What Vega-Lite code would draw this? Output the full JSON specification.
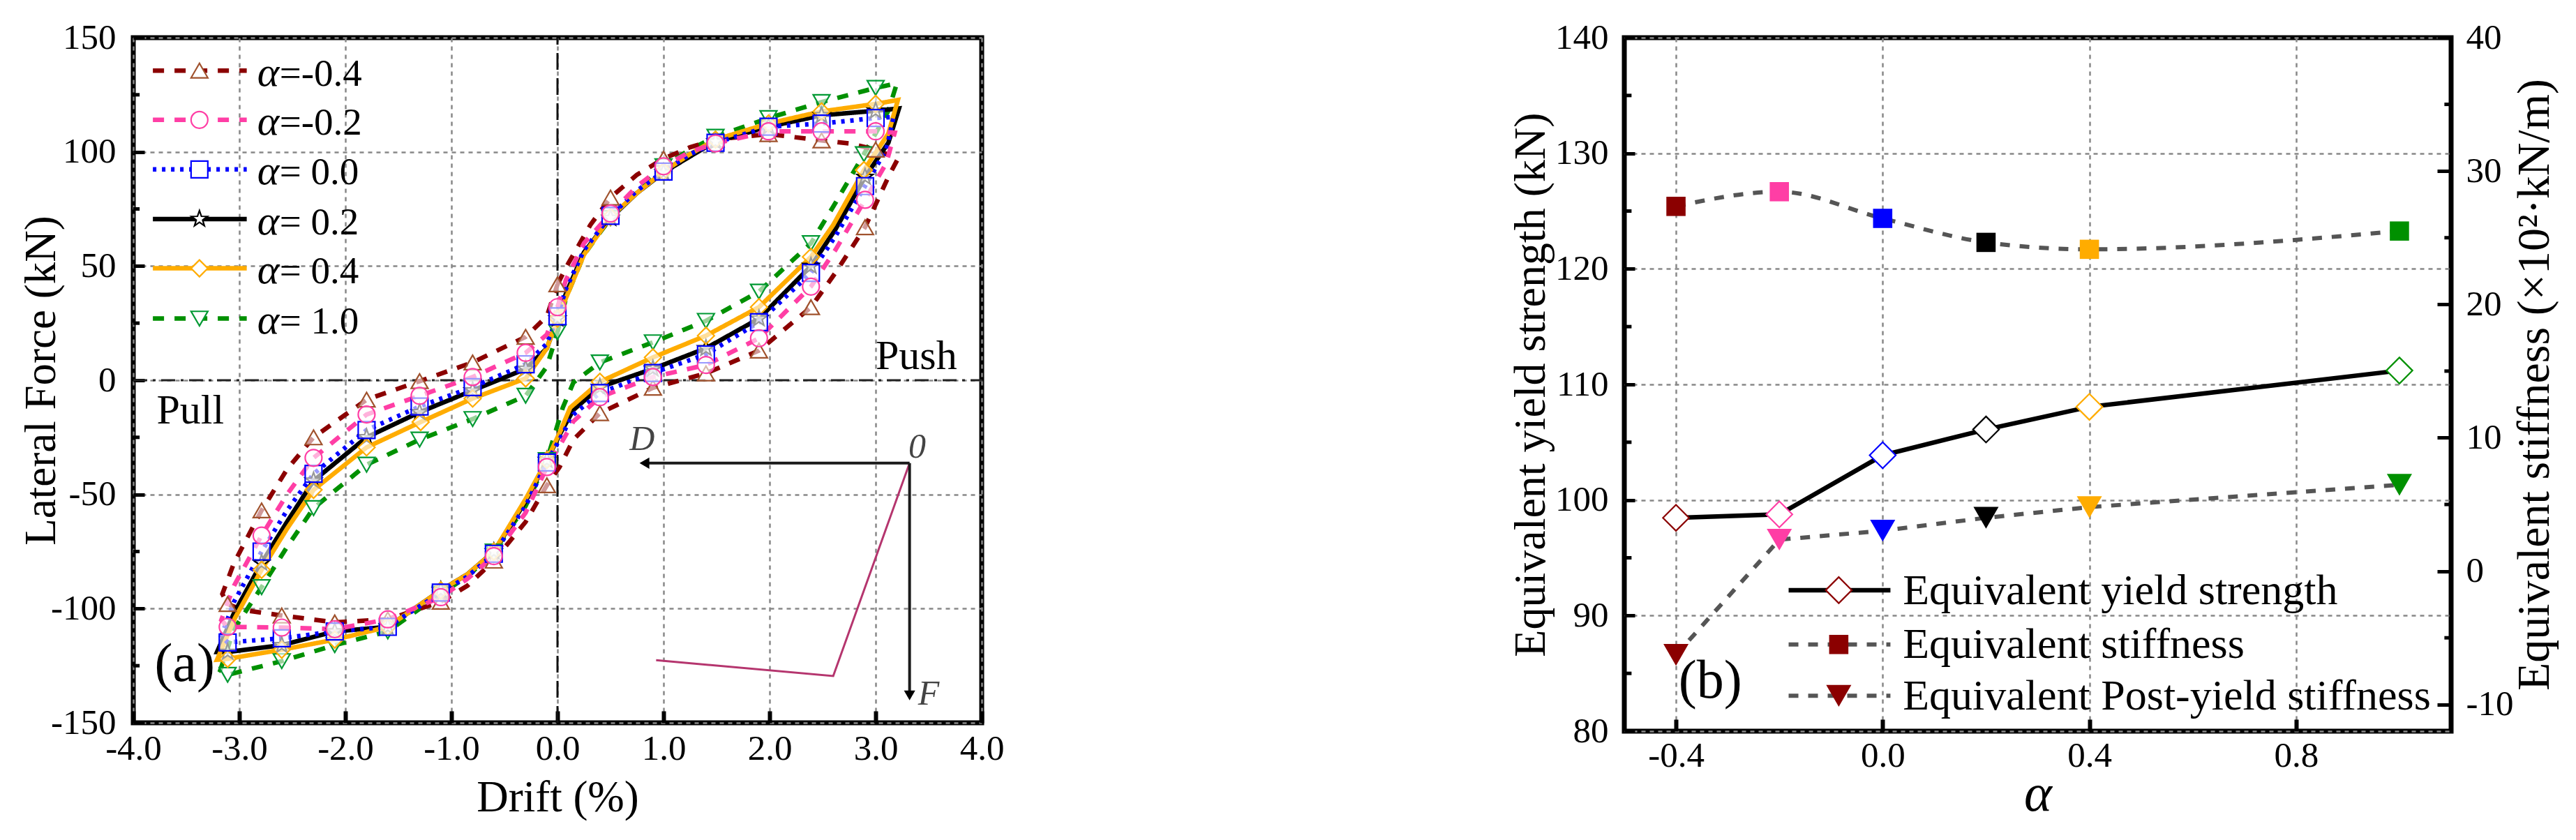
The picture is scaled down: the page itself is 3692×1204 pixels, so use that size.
{"$schema":"https://vega.github.io/schema/vega-lite/v6.json","background":"white","padding":{"left":25,"top":24,"right":0,"bottom":0},"bounds":"flush","spacing":921,
"resolve":{"scale":{"color":"independent","shape":"independent","size":"independent","stroke":"independent","strokeDash":"independent","strokeWidth":"independent"}},
"config":{"view":{"stroke":"black","strokeWidth":7},"axis":{"labelFont":"Liberation Serif","titleFont":"Liberation Serif","labelFontSize":51,"titleFontWeight":"normal","labelColor":"black","titleColor":"black","tickColor":"black","tickSize":-17,"tickWidth":6,"domain":false,"labelOverlap":false,"labelFlush":false,"labelBound":false,"gridColor":"#888888","gridWidth":2.5,"gridDash":[6,6]}},
"datasets":{
"loops":[
{"a":"1.0","i":1,"drift":0,"force":21,"m":1},{"a":"1.0","i":2,"drift":0.08,"force":36,"m":0},{"a":"1.0","i":3,"drift":0.25,"force":55,"m":0},{"a":"1.0","i":4,"drift":0.5,"force":71,"m":1},{"a":"1.0","i":5,"drift":0.75,"force":83,"m":0},{"a":"1.0","i":6,"drift":1.0,"force":93.7,"m":1},{"a":"1.0","i":7,"drift":1.25,"force":101,"m":0},{"a":"1.0","i":8,"drift":1.49,"force":106.6,"m":1},{"a":"1.0","i":9,"drift":1.99,"force":114.8,"m":1},{"a":"1.0","i":10,"drift":2.49,"force":121.8,"m":1},{"a":"1.0","i":11,"drift":3.0,"force":128,"m":1},{"a":"1.0","i":12,"drift":3.2,"force":130,"m":0},{"a":"1.0","i":13,"drift":3.12,"force":118,"m":0},{"a":"1.0","i":14,"drift":2.89,"force":99,"m":1},{"a":"1.0","i":15,"drift":2.6,"force":76,"m":0},{"a":"1.0","i":16,"drift":2.39,"force":60,"m":1},{"a":"1.0","i":17,"drift":1.9,"force":38.8,"m":1},{"a":"1.0","i":18,"drift":1.4,"force":26,"m":1},{"a":"1.0","i":19,"drift":0.9,"force":16.6,"m":1},{"a":"1.0","i":20,"drift":0.4,"force":7.8,"m":1},{"a":"1.0","i":21,"drift":0.15,"force":-1,"m":0},{"a":"1.0","i":22,"drift":0.05,"force":-12,"m":0},{"a":"1.0","i":23,"drift":-0.1,"force":-35,"m":1},{"a":"1.0","i":24,"drift":-0.3,"force":-55,"m":0},{"a":"1.0","i":25,"drift":-0.6,"force":-75,"m":1},{"a":"1.0","i":26,"drift":-0.85,"force":-86,"m":0},{"a":"1.0","i":27,"drift":-1.1,"force":-93.5,"m":1},{"a":"1.0","i":28,"drift":-1.6,"force":-110,"m":1},{"a":"1.0","i":29,"drift":-2.1,"force":-116,"m":1},{"a":"1.0","i":30,"drift":-2.6,"force":-123,"m":1},{"a":"1.0","i":31,"drift":-3.11,"force":-129,"m":1},{"a":"1.0","i":32,"drift":-3.18,"force":-127,"m":0},{"a":"1.0","i":33,"drift":-3.05,"force":-109,"m":0},{"a":"1.0","i":34,"drift":-2.79,"force":-90.6,"m":1},{"a":"1.0","i":35,"drift":-2.55,"force":-73,"m":0},{"a":"1.0","i":36,"drift":-2.3,"force":-56,"m":1},{"a":"1.0","i":37,"drift":-1.8,"force":-37,"m":1},{"a":"1.0","i":38,"drift":-1.3,"force":-26,"m":1},{"a":"1.0","i":39,"drift":-0.8,"force":-17,"m":1},{"a":"1.0","i":40,"drift":-0.3,"force":-6.8,"m":1},{"a":"1.0","i":41,"drift":-0.1,"force":6,"m":0},{"a":"1.0","i":42,"drift":0,"force":21,"m":0},
{"a":"-0.4","i":1,"drift":0,"force":42,"m":1},{"a":"-0.4","i":2,"drift":0.1,"force":51,"m":0},{"a":"-0.4","i":3,"drift":0.31,"force":68,"m":0},{"a":"-0.4","i":4,"drift":0.5,"force":80,"m":1},{"a":"-0.4","i":5,"drift":0.75,"force":90,"m":0},{"a":"-0.4","i":6,"drift":1.0,"force":97,"m":1},{"a":"-0.4","i":7,"drift":1.25,"force":102,"m":0},{"a":"-0.4","i":8,"drift":1.49,"force":105.4,"m":1},{"a":"-0.4","i":9,"drift":1.99,"force":107.8,"m":1},{"a":"-0.4","i":10,"drift":2.49,"force":105,"m":1},{"a":"-0.4","i":11,"drift":2.75,"force":103.7,"m":0},{"a":"-0.4","i":12,"drift":3.0,"force":101,"m":1},{"a":"-0.4","i":13,"drift":3.21,"force":97,"m":0},{"a":"-0.4","i":14,"drift":3.13,"force":90,"m":0},{"a":"-0.4","i":15,"drift":2.9,"force":67,"m":1},{"a":"-0.4","i":16,"drift":2.62,"force":47,"m":0},{"a":"-0.4","i":17,"drift":2.39,"force":32,"m":1},{"a":"-0.4","i":18,"drift":1.9,"force":13,"m":1},{"a":"-0.4","i":19,"drift":1.4,"force":3,"m":1},{"a":"-0.4","i":20,"drift":0.9,"force":-3.3,"m":1},{"a":"-0.4","i":21,"drift":0.4,"force":-14.4,"m":1},{"a":"-0.4","i":22,"drift":0.15,"force":-26,"m":0},{"a":"-0.4","i":23,"drift":0.02,"force":-38,"m":0},{"a":"-0.4","i":24,"drift":-0.1,"force":-46,"m":1},{"a":"-0.4","i":25,"drift":-0.3,"force":-62,"m":0},{"a":"-0.4","i":26,"drift":-0.6,"force":-79,"m":1},{"a":"-0.4","i":27,"drift":-0.85,"force":-90,"m":0},{"a":"-0.4","i":28,"drift":-1.1,"force":-97,"m":1},{"a":"-0.4","i":29,"drift":-1.6,"force":-104.7,"m":1},{"a":"-0.4","i":30,"drift":-2.1,"force":-106,"m":1},{"a":"-0.4","i":31,"drift":-2.6,"force":-103,"m":1},{"a":"-0.4","i":32,"drift":-2.97,"force":-100.6,"m":0},{"a":"-0.4","i":33,"drift":-3.11,"force":-98,"m":1},{"a":"-0.4","i":34,"drift":-3.16,"force":-93.6,"m":0},{"a":"-0.4","i":35,"drift":-3.05,"force":-80,"m":0},{"a":"-0.4","i":36,"drift":-2.79,"force":-57,"m":1},{"a":"-0.4","i":37,"drift":-2.55,"force":-39,"m":0},{"a":"-0.4","i":38,"drift":-2.3,"force":-25,"m":1},{"a":"-0.4","i":39,"drift":-1.8,"force":-8.5,"m":1},{"a":"-0.4","i":40,"drift":-1.3,"force":-0.4,"m":1},{"a":"-0.4","i":41,"drift":-0.8,"force":7.8,"m":1},{"a":"-0.4","i":42,"drift":-0.3,"force":19,"m":1},{"a":"-0.4","i":43,"drift":-0.1,"force":28,"m":0},{"a":"-0.4","i":44,"drift":0,"force":42,"m":0},
{"a":"0.2","i":1,"drift":0,"force":27,"m":1},{"a":"0.2","i":2,"drift":0.08,"force":38,"m":0},{"a":"0.2","i":3,"drift":0.25,"force":56,"m":0},{"a":"0.2","i":4,"drift":0.5,"force":71,"m":1},{"a":"0.2","i":5,"drift":0.75,"force":82,"m":0},{"a":"0.2","i":6,"drift":1.0,"force":91,"m":1},{"a":"0.2","i":7,"drift":1.25,"force":98,"m":0},{"a":"0.2","i":8,"drift":1.49,"force":104.5,"m":1},{"a":"0.2","i":9,"drift":1.99,"force":111,"m":1},{"a":"0.2","i":10,"drift":2.49,"force":116,"m":1},{"a":"0.2","i":11,"drift":3.0,"force":118,"m":1},{"a":"0.2","i":12,"drift":3.22,"force":119,"m":0},{"a":"0.2","i":13,"drift":3.12,"force":104,"m":0},{"a":"0.2","i":14,"drift":2.9,"force":89,"m":1},{"a":"0.2","i":15,"drift":2.62,"force":66,"m":0},{"a":"0.2","i":16,"drift":2.39,"force":50,"m":1},{"a":"0.2","i":17,"drift":1.9,"force":27,"m":1},{"a":"0.2","i":18,"drift":1.4,"force":14,"m":1},{"a":"0.2","i":19,"drift":0.9,"force":5,"m":1},{"a":"0.2","i":20,"drift":0.4,"force":-3,"m":1},{"a":"0.2","i":21,"drift":0.15,"force":-13,"m":0},{"a":"0.2","i":22,"drift":0.03,"force":-23,"m":0},{"a":"0.2","i":23,"drift":-0.1,"force":-35,"m":1},{"a":"0.2","i":24,"drift":-0.3,"force":-53,"m":0},{"a":"0.2","i":25,"drift":-0.6,"force":-75,"m":1},{"a":"0.2","i":26,"drift":-0.85,"force":-85,"m":0},{"a":"0.2","i":27,"drift":-1.1,"force":-92,"m":1},{"a":"0.2","i":28,"drift":-1.6,"force":-108,"m":1},{"a":"0.2","i":29,"drift":-2.1,"force":-110,"m":1},{"a":"0.2","i":30,"drift":-2.6,"force":-116,"m":1},{"a":"0.2","i":31,"drift":-3.11,"force":-119,"m":1},{"a":"0.2","i":32,"drift":-3.21,"force":-119,"m":0},{"a":"0.2","i":33,"drift":-3.05,"force":-102,"m":0},{"a":"0.2","i":34,"drift":-2.79,"force":-80,"m":1},{"a":"0.2","i":35,"drift":-2.55,"force":-62,"m":0},{"a":"0.2","i":36,"drift":-2.3,"force":-44,"m":1},{"a":"0.2","i":37,"drift":-1.8,"force":-25,"m":1},{"a":"0.2","i":38,"drift":-1.3,"force":-14,"m":1},{"a":"0.2","i":39,"drift":-0.8,"force":-4.5,"m":1},{"a":"0.2","i":40,"drift":-0.3,"force":5,"m":1},{"a":"0.2","i":41,"drift":-0.1,"force":14,"m":0},{"a":"0.2","i":42,"drift":0,"force":27,"m":0},
{"a":"0.4","i":1,"drift":0,"force":27,"m":1},{"a":"0.4","i":2,"drift":0.08,"force":36,"m":0},{"a":"0.4","i":3,"drift":0.25,"force":55,"m":0},{"a":"0.4","i":4,"drift":0.5,"force":71.5,"m":1},{"a":"0.4","i":5,"drift":0.75,"force":82,"m":0},{"a":"0.4","i":6,"drift":1.0,"force":91.4,"m":1},{"a":"0.4","i":7,"drift":1.25,"force":99,"m":0},{"a":"0.4","i":8,"drift":1.49,"force":105.4,"m":1},{"a":"0.4","i":9,"drift":1.99,"force":112.4,"m":1},{"a":"0.4","i":10,"drift":2.49,"force":117.7,"m":1},{"a":"0.4","i":11,"drift":3.0,"force":121,"m":1},{"a":"0.4","i":12,"drift":3.21,"force":122.7,"m":0},{"a":"0.4","i":13,"drift":3.12,"force":108,"m":0},{"a":"0.4","i":14,"drift":2.89,"force":92,"m":1},{"a":"0.4","i":15,"drift":2.6,"force":68,"m":0},{"a":"0.4","i":16,"drift":2.39,"force":54,"m":1},{"a":"0.4","i":17,"drift":1.9,"force":32,"m":1},{"a":"0.4","i":18,"drift":1.4,"force":19.5,"m":1},{"a":"0.4","i":19,"drift":0.9,"force":10,"m":1},{"a":"0.4","i":20,"drift":0.4,"force":-0.7,"m":1},{"a":"0.4","i":21,"drift":0.12,"force":-12,"m":0},{"a":"0.4","i":22,"drift":0.03,"force":-22,"m":0},{"a":"0.4","i":23,"drift":-0.1,"force":-35,"m":1},{"a":"0.4","i":24,"drift":-0.3,"force":-52,"m":0},{"a":"0.4","i":25,"drift":-0.6,"force":-75,"m":1},{"a":"0.4","i":26,"drift":-0.85,"force":-85,"m":0},{"a":"0.4","i":27,"drift":-1.1,"force":-92,"m":1},{"a":"0.4","i":28,"drift":-1.6,"force":-108,"m":1},{"a":"0.4","i":29,"drift":-2.1,"force":-113.6,"m":1},{"a":"0.4","i":30,"drift":-2.6,"force":-118,"m":1},{"a":"0.4","i":31,"drift":-3.11,"force":-122,"m":1},{"a":"0.4","i":32,"drift":-3.21,"force":-122.4,"m":0},{"a":"0.4","i":33,"drift":-3.04,"force":-104,"m":0},{"a":"0.4","i":34,"drift":-2.79,"force":-83,"m":1},{"a":"0.4","i":35,"drift":-2.55,"force":-65,"m":0},{"a":"0.4","i":36,"drift":-2.3,"force":-48,"m":1},{"a":"0.4","i":37,"drift":-1.8,"force":-29.4,"m":1},{"a":"0.4","i":38,"drift":-1.29,"force":-18.3,"m":1},{"a":"0.4","i":39,"drift":-0.8,"force":-8,"m":1},{"a":"0.4","i":40,"drift":-0.3,"force":0.8,"m":1},{"a":"0.4","i":41,"drift":-0.1,"force":14,"m":0},{"a":"0.4","i":42,"drift":0,"force":27,"m":0},
{"a":"0.0","i":1,"drift":0,"force":28,"m":1},{"a":"0.0","i":2,"drift":0.08,"force":40,"m":0},{"a":"0.0","i":3,"drift":0.25,"force":57,"m":0},{"a":"0.0","i":4,"drift":0.5,"force":72,"m":1},{"a":"0.0","i":5,"drift":0.75,"force":83,"m":0},{"a":"0.0","i":6,"drift":1.0,"force":91.4,"m":1},{"a":"0.0","i":7,"drift":1.25,"force":99,"m":0},{"a":"0.0","i":8,"drift":1.49,"force":104,"m":1},{"a":"0.0","i":9,"drift":1.99,"force":111,"m":1},{"a":"0.0","i":10,"drift":2.49,"force":112.4,"m":1},{"a":"0.0","i":11,"drift":3.0,"force":114.8,"m":1},{"a":"0.0","i":12,"drift":3.17,"force":115.3,"m":0},{"a":"0.0","i":13,"drift":3.1,"force":101,"m":0},{"a":"0.0","i":14,"drift":2.9,"force":85,"m":1},{"a":"0.0","i":15,"drift":2.62,"force":63,"m":0},{"a":"0.0","i":16,"drift":2.39,"force":47,"m":1},{"a":"0.0","i":17,"drift":1.9,"force":25.4,"m":1},{"a":"0.0","i":18,"drift":1.4,"force":11.3,"m":1},{"a":"0.0","i":19,"drift":0.9,"force":3.2,"m":1},{"a":"0.0","i":20,"drift":0.4,"force":-5.6,"m":1},{"a":"0.0","i":21,"drift":0.15,"force":-15,"m":0},{"a":"0.0","i":22,"drift":0.03,"force":-25,"m":0},{"a":"0.0","i":23,"drift":-0.1,"force":-36,"m":1},{"a":"0.0","i":24,"drift":-0.3,"force":-55,"m":0},{"a":"0.0","i":25,"drift":-0.6,"force":-76,"m":1},{"a":"0.0","i":26,"drift":-0.85,"force":-86,"m":0},{"a":"0.0","i":27,"drift":-1.1,"force":-93,"m":1},{"a":"0.0","i":28,"drift":-1.6,"force":-108,"m":1},{"a":"0.0","i":29,"drift":-2.1,"force":-110,"m":1},{"a":"0.0","i":30,"drift":-2.6,"force":-113,"m":1},{"a":"0.0","i":31,"drift":-3.11,"force":-114.8,"m":1},{"a":"0.0","i":32,"drift":-3.17,"force":-112,"m":0},{"a":"0.0","i":33,"drift":-3.05,"force":-97,"m":0},{"a":"0.0","i":34,"drift":-2.79,"force":-75,"m":1},{"a":"0.0","i":35,"drift":-2.55,"force":-57,"m":0},{"a":"0.0","i":36,"drift":-2.3,"force":-41,"m":1},{"a":"0.0","i":37,"drift":-1.8,"force":-21.8,"m":1},{"a":"0.0","i":38,"drift":-1.3,"force":-11.5,"m":1},{"a":"0.0","i":39,"drift":-0.8,"force":-3,"m":1},{"a":"0.0","i":40,"drift":-0.3,"force":7,"m":1},{"a":"0.0","i":41,"drift":-0.1,"force":16,"m":0},{"a":"0.0","i":42,"drift":0,"force":28,"m":0},
{"a":"-0.2","i":1,"drift":0,"force":32,"m":1},{"a":"-0.2","i":2,"drift":0.08,"force":44,"m":0},{"a":"-0.2","i":3,"drift":0.25,"force":60,"m":0},{"a":"-0.2","i":4,"drift":0.5,"force":73,"m":1},{"a":"-0.2","i":5,"drift":0.75,"force":85,"m":0},{"a":"-0.2","i":6,"drift":1.0,"force":93.7,"m":1},{"a":"-0.2","i":7,"drift":1.25,"force":100,"m":0},{"a":"-0.2","i":8,"drift":1.49,"force":103.7,"m":1},{"a":"-0.2","i":9,"drift":1.99,"force":109,"m":1},{"a":"-0.2","i":10,"drift":2.49,"force":109,"m":1},{"a":"-0.2","i":11,"drift":3.0,"force":109,"m":1},{"a":"-0.2","i":12,"drift":3.18,"force":108.4,"m":0},{"a":"-0.2","i":13,"drift":3.1,"force":95,"m":0},{"a":"-0.2","i":14,"drift":2.9,"force":79,"m":1},{"a":"-0.2","i":15,"drift":2.62,"force":57,"m":0},{"a":"-0.2","i":16,"drift":2.39,"force":41,"m":1},{"a":"-0.2","i":17,"drift":1.9,"force":18.4,"m":1},{"a":"-0.2","i":18,"drift":1.4,"force":6.7,"m":1},{"a":"-0.2","i":19,"drift":0.9,"force":1.4,"m":1},{"a":"-0.2","i":20,"drift":0.4,"force":-7.4,"m":1},{"a":"-0.2","i":21,"drift":0.15,"force":-18,"m":0},{"a":"-0.2","i":22,"drift":0.03,"force":-28,"m":0},{"a":"-0.2","i":23,"drift":-0.1,"force":-38,"m":1},{"a":"-0.2","i":24,"drift":-0.3,"force":-58,"m":0},{"a":"-0.2","i":25,"drift":-0.6,"force":-77,"m":1},{"a":"-0.2","i":26,"drift":-0.85,"force":-87,"m":0},{"a":"-0.2","i":27,"drift":-1.1,"force":-95,"m":1},{"a":"-0.2","i":28,"drift":-1.6,"force":-104.7,"m":1},{"a":"-0.2","i":29,"drift":-2.1,"force":-109,"m":1},{"a":"-0.2","i":30,"drift":-2.6,"force":-108.3,"m":1},{"a":"-0.2","i":31,"drift":-3.11,"force":-108,"m":1},{"a":"-0.2","i":32,"drift":-3.17,"force":-105,"m":0},{"a":"-0.2","i":33,"drift":-3.05,"force":-90,"m":0},{"a":"-0.2","i":34,"drift":-2.79,"force":-68,"m":1},{"a":"-0.2","i":35,"drift":-2.55,"force":-50,"m":0},{"a":"-0.2","i":36,"drift":-2.3,"force":-34,"m":1},{"a":"-0.2","i":37,"drift":-1.8,"force":-15,"m":1},{"a":"-0.2","i":38,"drift":-1.3,"force":-6.8,"m":1},{"a":"-0.2","i":39,"drift":-0.8,"force":1.4,"m":1},{"a":"-0.2","i":40,"drift":-0.3,"force":12,"m":1},{"a":"-0.2","i":41,"drift":-0.1,"force":20,"m":0},{"a":"-0.2","i":42,"drift":0,"force":32,"m":0}],
"zeroH":[{"drift":-4,"drift2":4,"force":0}],
"zeroV":[{"drift":0,"force":-150,"force2":150}],
"legendLines":[{"a":"-0.4","drift":-3.815,"force":135.6},{"a":"-0.4","drift":-2.93,"force":135.6},{"a":"-0.2","drift":-3.815,"force":114},{"a":"-0.2","drift":-2.93,"force":114},{"a":"0.0","drift":-3.815,"force":92.3},{"a":"0.0","drift":-2.93,"force":92.3},{"a":"0.2","drift":-3.815,"force":70.6},{"a":"0.2","drift":-2.93,"force":70.6},{"a":"0.4","drift":-3.815,"force":49},{"a":"0.4","drift":-2.93,"force":49},{"a":"1.0","drift":-3.815,"force":27},{"a":"1.0","drift":-2.93,"force":27}],
"legendKeys":[{"a":"-0.4","drift":-3.376,"force":135.6},{"a":"-0.2","drift":-3.376,"force":114},{"a":"0.0","drift":-3.376,"force":92.3},{"a":"0.2","drift":-3.376,"force":70.6},{"a":"0.4","drift":-3.376,"force":49},{"a":"1.0","drift":-3.376,"force":27}],
"legendAlpha":[{"drift":-2.83,"force":129,"t":"α"},{"drift":-2.83,"force":107.5,"t":"α"},{"drift":-2.83,"force":85.8,"t":"α"},{"drift":-2.83,"force":64,"t":"α"},{"drift":-2.83,"force":42.5,"t":"α"},{"drift":-2.83,"force":20.5,"t":"α"}],
"legendText":[{"drift":-2.62,"force":129,"t":"=-0.4"},{"drift":-2.62,"force":107.5,"t":"=-0.2"},{"drift":-2.62,"force":85.8,"t":"= 0.0"},{"drift":-2.62,"force":64,"t":"= 0.2"},{"drift":-2.62,"force":42.5,"t":"= 0.4"},{"drift":-2.62,"force":20.5,"t":"= 1.0"}],
"notesA":[{"drift":-3.78,"force":-19,"t":"Pull"},{"drift":3.0,"force":4.9,"t":"Push"}],
"panelTagA":[{"drift":-3.8,"force":-131.8,"t":"(a)"}],
"inset":[{"drift":0.68,"force":-30.5,"t":"D","c":"D"},{"drift":3.31,"force":-34,"t":"0","c":"0"},{"drift":3.4,"force":-142,"t":"F","c":"F"}],
"arrowLines":[{"k":"h","drift":3.32,"force":-36.3},{"k":"h","drift":0.82,"force":-36.3},{"k":"v","drift":3.32,"force":-36.3},{"k":"v","drift":3.32,"force":-136}],
"arrowLeft":[{"drift":0.82,"force":-36.3}],
"arrowDown":[{"drift":3.32,"force":-138}],
"curve":[{"i":1,"drift":3.32,"force":-36.3},{"i":2,"drift":2.6,"force":-129.5},{"i":3,"drift":0.93,"force":-122.6}],
"minorA":[{"drift":-4,"drift2":-3.94,"force":125},{"drift":-4,"drift2":-3.94,"force":75},{"drift":-4,"drift2":-3.94,"force":25},{"drift":-4,"drift2":-3.94,"force":-25},{"drift":-4,"drift2":-3.94,"force":-75},{"drift":-4,"drift2":-3.94,"force":-125}],
"strength":[{"a":"-0.4","alpha":-0.4,"v":98.46},{"a":"-0.2","alpha":-0.2,"v":98.76},{"a":"0.0","alpha":0,"v":103.87},{"a":"0.2","alpha":0.2,"v":106.1},{"a":"0.4","alpha":0.4,"v":108.06},{"a":"1.0","alpha":1.0,"v":111.2}],
"stiffness":[{"a":"-0.4","alpha":-0.4,"v":27.35},{"a":"-0.2","alpha":-0.2,"v":28.45},{"a":"0.0","alpha":0,"v":26.45},{"a":"0.2","alpha":0.2,"v":24.65},{"a":"0.4","alpha":0.4,"v":24.13},{"a":"1.0","alpha":1.0,"v":25.5}],
"post":[{"a":"-0.4","alpha":-0.4,"v":-6.28},{"a":"-0.2","alpha":-0.2,"v":2.36},{"a":"0.0","alpha":0,"v":3.03},{"a":"0.2","alpha":0.2,"v":4.0},{"a":"0.4","alpha":0.4,"v":4.8},{"a":"1.0","alpha":1.0,"v":6.47}],
"minorL":[{"alpha":-0.5,"alpha2":-0.486,"v":135},{"alpha":-0.5,"alpha2":-0.486,"v":125},{"alpha":-0.5,"alpha2":-0.486,"v":115},{"alpha":-0.5,"alpha2":-0.486,"v":105},{"alpha":-0.5,"alpha2":-0.486,"v":95},{"alpha":-0.5,"alpha2":-0.486,"v":85}],
"minorR":[{"alpha":1.1,"alpha2":1.087,"v":35},{"alpha":1.1,"alpha2":1.087,"v":25},{"alpha":1.1,"alpha2":1.087,"v":15},{"alpha":1.1,"alpha2":1.087,"v":5},{"alpha":1.1,"alpha2":1.087,"v":-5}],
"keyStrengthLine":[{"alpha":-0.182,"v":92.2},{"alpha":0.015,"v":92.2}],
"keyStrengthMark":[{"alpha":-0.085,"v":92.2}],
"keyStiffLine":[{"alpha":-0.182,"v":87.5},{"alpha":0.015,"v":87.5}],
"keyStiffMark":[{"alpha":-0.085,"v":87.5}],
"keyPostLine":[{"alpha":-0.182,"v":83.06},{"alpha":0.015,"v":83.06}],
"keyPostMark":[{"alpha":-0.085,"v":83.06}],
"keyText":[{"alpha":0.039,"v":91,"t":"Equivalent yield strength"},{"alpha":0.039,"v":86.36,"t":"Equivalent stiffness"},{"alpha":0.039,"v":81.87,"t":"Equivalent Post-yield stiffness"}],
"panelTagB":[{"alpha":-0.395,"v":82.87,"t":"(b)"}]
},
"hconcat":[
{"width":1216,"height":982,
"encoding":{
"x":{"field":"drift","type":"quantitative","scale":{"domain":[-4,4],"nice":false,"zero":false},"axis":{"title":"Drift (%)","titleFontSize":63,"titlePadding":14,"labelPadding":29,"values":[-4,-3,-2,-1,0,1,2,3,4],"labelExpr":"(datum.value<0?'-':'')+format(abs(datum.value),'.1f')"}},
"y":{"field":"force","type":"quantitative","scale":{"domain":[-150,150],"nice":false,"zero":false},"axis":{"title":"Lateral Force (kN)","titleFontSize":63,"titlePadding":-19,"labelPadding":41,"tickSize":-16,"tickWidth":5,"values":[-150,-100,-50,0,50,100,150],"labelExpr":"(datum.value<0?'-':'')+format(abs(datum.value),'d')"}}},
"layer":[
{"data":{"name":"zeroH"},"mark":{"type":"rule","stroke":"#222222","strokeWidth":3,"strokeDash":[20,8,4,8]},"encoding":{"x2":{"field":"drift2"}}},
{"data":{"name":"zeroV"},"mark":{"type":"rule","stroke":"#111111","strokeWidth":3,"strokeDash":[24,12]},"encoding":{"y2":{"field":"force2"}}},
{"data":{"name":"curve"},"mark":{"type":"line","stroke":"#B5356E","strokeWidth":3},"encoding":{"order":{"field":"i","type":"quantitative"}}},
{"data":{"name":"arrowLines"},"mark":{"type":"line","stroke":"#1a1a1a","strokeWidth":4},"encoding":{"detail":{"field":"k"}}},
{"data":{"name":"arrowLeft"},"mark":{"type":"point","shape":"triangle-left","filled":true,"fill":"black","opacity":1,"size":260,"strokeWidth":0}},
{"data":{"name":"arrowDown"},"mark":{"type":"point","shape":"triangle-down","filled":true,"fill":"black","opacity":1,"size":260,"strokeWidth":0}},
{"data":{"name":"loops"},"mark":{"type":"line"},"encoding":{"order":{"field":"i","type":"quantitative"},
"stroke":{"field":"a","type":"nominal","legend":null,"scale":{"domain":["1.0","-0.4","0.2","0.4","0.0","-0.2"],"range":["#009000","#8B0000","#000000","#FFAC00","#0000FF","#FF3EA5"]}},
"strokeDash":{"field":"a","type":"nominal","legend":null,"scale":{"domain":["1.0","-0.4","0.2","0.4","0.0","-0.2"],"range":[[16,15],[16,15],[1,0],[1,0],[5,8],[16,15]]}},
"strokeWidth":{"field":"a","type":"nominal","legend":null,"scale":{"domain":["1.0","-0.4","0.2","0.4","0.0","-0.2"],"range":[6.5,6.5,7,7.5,6.5,6.5]}}}},
{"data":{"name":"loops"},"transform":[{"filter":"datum.m==1"}],"mark":{"type":"point","filled":false,"fill":"white","fillOpacity":0.6,"opacity":1,"strokeWidth":2.2},"encoding":{
"color":{"field":"a","type":"nominal","legend":null,"scale":{"domain":["1.0","-0.4","0.2","0.4","0.0","-0.2"],"range":["#009933","#A0522D","#000000","#FFAC00","#0000FF","#FF3EA5"]}},
"shape":{"field":"a","type":"nominal","legend":null,"scale":{"domain":["1.0","-0.4","0.2","0.4","0.0","-0.2"],"range":["triangle-down","triangle-up","M0,-1L0.235,-0.324L0.951,-0.309L0.38,0.124L0.588,0.809L0,0.4L-0.588,0.809L-0.38,0.124L-0.951,-0.309L-0.235,-0.324Z","diamond","square","circle"]}},
"size":{"field":"a","type":"nominal","legend":null,"scale":{"domain":["1.0","-0.4","0.2","0.4","0.0","-0.2"],"range":[576,576,900,530,320,330]}}}},
{"data":{"name":"legendLines"},"mark":{"type":"line"},"encoding":{"stroke":{"field":"a","type":"nominal","legend":null},"strokeDash":{"field":"a","type":"nominal","legend":null},"strokeWidth":{"field":"a","type":"nominal","legend":null}}},
{"data":{"name":"legendKeys"},"mark":{"type":"point","filled":false,"fill":"white","fillOpacity":1,"opacity":1,"strokeWidth":2.2},"encoding":{"color":{"field":"a","type":"nominal","legend":null},"shape":{"field":"a","type":"nominal","legend":null},"size":{"field":"a","type":"nominal","legend":null}}},
{"data":{"name":"legendAlpha"},"mark":{"type":"text","font":"Liberation Serif","fontStyle":"italic","fontSize":60,"align":"left","baseline":"alphabetic","color":"black"},"encoding":{"text":{"field":"t"}}},
{"data":{"name":"legendText"},"mark":{"type":"text","font":"Liberation Serif","fontSize":55,"align":"left","baseline":"alphabetic","color":"black"},"encoding":{"text":{"field":"t"}}},
{"data":{"name":"notesA"},"mark":{"type":"text","font":"Liberation Serif","fontSize":60,"align":"left","baseline":"alphabetic","color":"black"},"encoding":{"text":{"field":"t"}}},
{"data":{"name":"panelTagA"},"mark":{"type":"text","font":"Liberation Serif","fontSize":78,"align":"left","baseline":"alphabetic","color":"black"},"encoding":{"text":{"field":"t"}}},
{"data":{"name":"inset"},"mark":{"type":"text","font":"Liberation Serif","fontStyle":"italic","fontSize":50,"align":"left","baseline":"alphabetic","color":"#444444"},"encoding":{"text":{"field":"t"}}},
{"data":{"name":"minorA"},"mark":{"type":"rule","stroke":"black","strokeWidth":5},"encoding":{"x2":{"field":"drift2"}}}
]},
{"width":1185,"height":994,"resolve":{"scale":{"y":"independent"}},
"encoding":{"x":{"field":"alpha","type":"quantitative","scale":{"domain":[-0.5,1.1],"nice":false,"zero":false},"axis":{"title":"α","titleFontSize":76,"titleFontStyle":"italic","titlePadding":-7,"labelPadding":27,"values":[-0.4,0,0.4,0.8],"labelExpr":"(datum.value<0?'-':'')+format(abs(datum.value),'.1f')"}}},
"layer":[
{"encoding":{"y":{"field":"v","type":"quantitative","scale":{"domain":[80,140],"nice":false,"zero":false},"axis":{"title":"Equivalent yield strength (kN)","titleFontSize":64,"titlePadding":2,"labelPadding":38,"tickSize":-15,"tickWidth":5,"values":[80,90,100,110,120,130,140],"labelExpr":"format(datum.value,'d')"}}},
"layer":[
{"data":{"name":"strength"},"mark":{"type":"line","stroke":"black","strokeWidth":6.5}},
{"data":{"name":"strength"},"mark":{"type":"point","shape":"diamond","filled":false,"fill":"white","fillOpacity":1,"opacity":1,"size":1400,"strokeWidth":2.2},"encoding":{"color":{"field":"a","type":"nominal","legend":null,"scale":{"domain":["-0.4","-0.2","0.0","0.2","0.4","1.0"],"range":["#8B0000","#FF3EA5","#0000FF","#000000","#FFAC00","#009000"]}}}},
{"data":{"name":"keyStrengthLine"},"mark":{"type":"line","stroke":"black","strokeWidth":6.5}},
{"data":{"name":"keyStrengthMark"},"mark":{"type":"point","shape":"diamond","filled":false,"fill":"white","fillOpacity":1,"stroke":"#8B0000","opacity":1,"size":1400,"strokeWidth":2.2}},
{"data":{"name":"keyStiffLine"},"mark":{"type":"line","stroke":"#555555","strokeWidth":6,"strokeDash":[14,14]}},
{"data":{"name":"keyStiffMark"},"mark":{"type":"point","shape":"square","filled":true,"fill":"#8B0000","opacity":1,"size":760,"strokeWidth":0}},
{"data":{"name":"keyPostLine"},"mark":{"type":"line","stroke":"#555555","strokeWidth":6,"strokeDash":[14,14]}},
{"data":{"name":"keyPostMark"},"mark":{"type":"point","shape":"triangle-down","filled":true,"fill":"#8B0000","opacity":1,"size":1300,"strokeWidth":0}},
{"data":{"name":"keyText"},"mark":{"type":"text","font":"Liberation Serif","fontSize":62,"align":"left","baseline":"alphabetic","color":"black"},"encoding":{"text":{"field":"t"}}},
{"data":{"name":"panelTagB"},"mark":{"type":"text","font":"Liberation Serif","fontSize":78,"align":"left","baseline":"alphabetic","color":"black"},"encoding":{"text":{"field":"t"}}},
{"data":{"name":"minorL"},"mark":{"type":"rule","stroke":"black","strokeWidth":5},"encoding":{"x2":{"field":"alpha2"}}}
]},
{"encoding":{"y":{"field":"v","type":"quantitative","scale":{"domain":[-12,40],"nice":false,"zero":false},"axis":{"orient":"right","grid":false,"title":"Equivalent  stiffness (×10²·kN/m)","titleFontSize":66,"titleAngle":270,"titlePadding":65,"labelPadding":41,"tickSize":-20,"tickWidth":5,"values":[-10,0,10,20,30,40],"labelExpr":"(datum.value<0?'-':'')+format(abs(datum.value),'d')"}}},
"layer":[
{"data":{"name":"stiffness"},"mark":{"type":"line","stroke":"#555555","strokeWidth":6,"strokeDash":[14,14],"interpolate":"monotone"}},
{"data":{"name":"stiffness"},"mark":{"type":"point","shape":"square","filled":true,"opacity":1,"size":760,"strokeWidth":0},"encoding":{"color":{"field":"a","type":"nominal","legend":null,"scale":{"domain":["-0.4","-0.2","0.0","0.2","0.4","1.0"],"range":["#8B0000","#FF3EA5","#0000FF","#000000","#FFAC00","#009000"]}}}},
{"data":{"name":"post"},"mark":{"type":"line","stroke":"#555555","strokeWidth":6,"strokeDash":[14,14]}},
{"data":{"name":"post"},"mark":{"type":"point","shape":"triangle-down","filled":true,"opacity":1,"size":1300,"strokeWidth":0},"encoding":{"color":{"field":"a","type":"nominal","legend":null}}},
{"data":{"name":"minorR"},"mark":{"type":"rule","stroke":"black","strokeWidth":5},"encoding":{"x2":{"field":"alpha2"}}}
]}
]}
]}
